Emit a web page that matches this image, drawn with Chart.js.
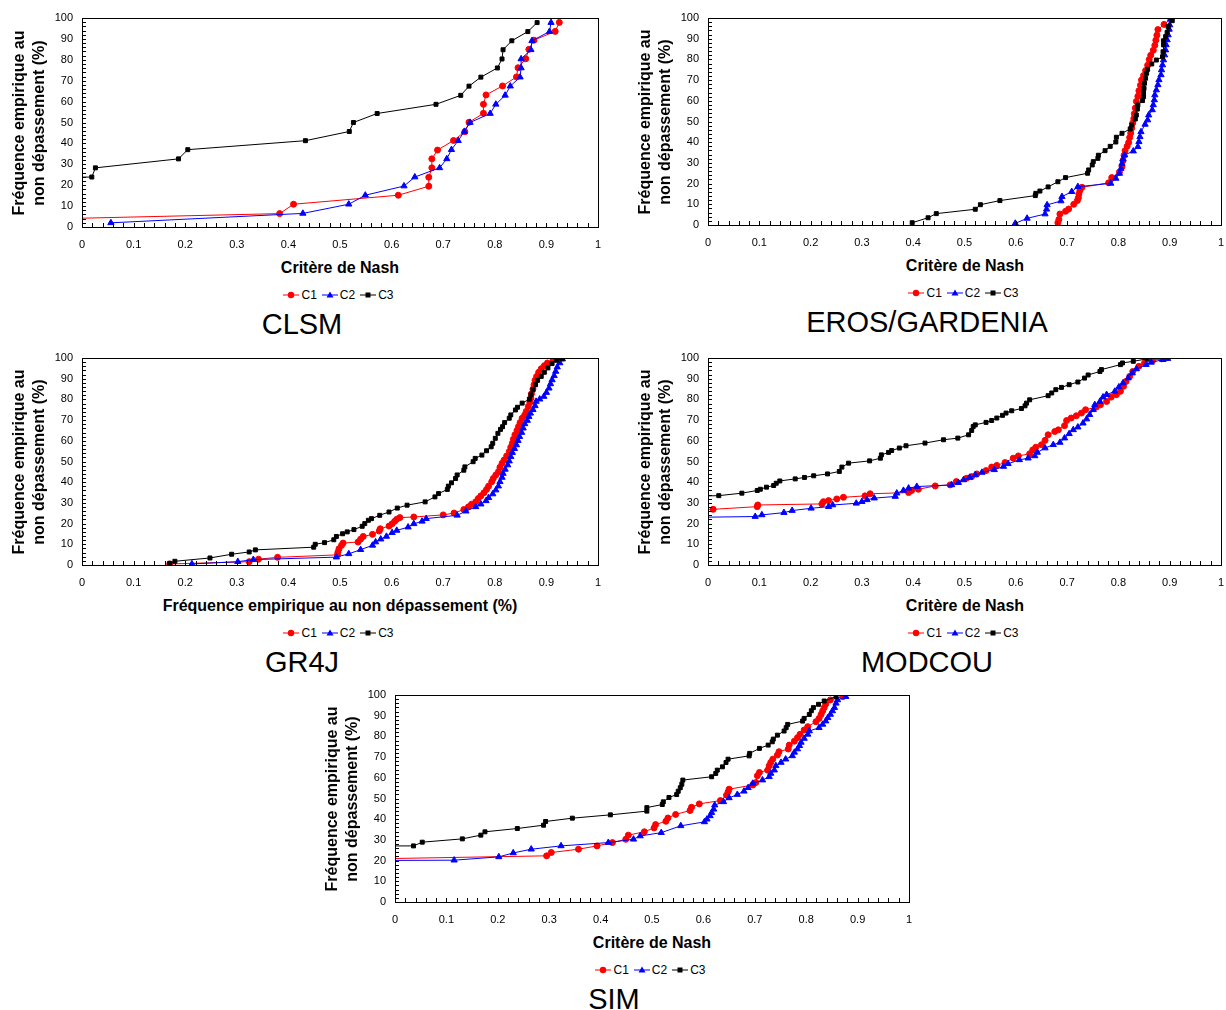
<!DOCTYPE html>
<html lang="fr">
<head>
<meta charset="UTF-8">
<title>Critère de Nash - fréquence empirique au non dépassement</title>
<script src="https://cdn.jsdelivr.net/npm/chart.js"></script>
<style>
  body { margin: 0; background: #fff; font-family: 'Liberation Sans', Arial, sans-serif; color: #000; }
  #page { position: relative; width: 1226px; height: 1010px; overflow: hidden; }
  canvas { position: absolute; }
  .ytitre { position: absolute; width: 260px; height: 40px; line-height: 20px; font-size: 16px; font-weight: bold; text-align: center; white-space: nowrap; transform: rotate(-90deg); }
  .xtitre { position: absolute; width: 500px; height: 20px; line-height: 20px; font-size: 16px; font-weight: bold; text-align: center; white-space: nowrap; }
  .legende { position: absolute; width: 300px; height: 16px; display: flex; justify-content: center; align-items: center; font-size: 12px; }
  .legende svg { margin-right: 2px; }
  .legende span { margin-right: 5px; }
  .legende span:last-child { margin-right: 0; }
  .titre { position: absolute; width: 400px; height: 34px; line-height: 34px; font-size: 29px; text-align: center; white-space: nowrap; }
</style>
</head>
<body>
<div id="page"></div>

<script>
  // textes
  var xTickLabels = ['0', '0.1', '0.2', '0.3', '0.4', '0.5', '0.6', '0.7', '0.8', '0.9', '1'];
  var yTickLabels = ['0', '10', '20', '30', '40', '50', '60', '70', '80', '90', '100'];
  var seriesNames = ['C1', 'C2', 'C3'];
  var panelTitles = ['CLSM', 'EROS/GARDENIA', 'GR4J', 'MODCOU', 'SIM'];
  var xAxisTitles = ['Critère de Nash', 'Critère de Nash', 'Fréquence empirique au non dépassement (%)', 'Critère de Nash', 'Critère de Nash'];
  var yAxisTitle = ['Fréquence empirique au', 'non dépassement (%)'];

  // [critère de Nash, fréquence (%)]
  var clsmC1 = [[-0.35,2.2],[0.383,6.4],[0.410,10.9],[0.613,15.2],[0.672,19.5],[0.672,23.8],[0.678,28.3],[0.678,32.6],[0.689,36.8],[0.720,41.4],[0.742,45.6],[0.750,50.1],[0.778,54.4],[0.778,58.7],[0.783,63.2],[0.815,67.5],[0.842,71.8],[0.845,76.2],[0.860,80.5],[0.866,85.0],[0.876,89.4],[0.917,93.6],[0.925,97.9]];
  var clsmC2 = [[0.056,2.0],[0.428,6.5],[0.517,10.9],[0.549,15.2],[0.624,19.6],[0.645,23.9],[0.693,28.3],[0.707,32.6],[0.716,37.0],[0.729,41.3],[0.741,45.7],[0.752,50.0],[0.791,54.3],[0.802,58.7],[0.820,63.0],[0.830,67.4],[0.849,71.7],[0.851,76.1],[0.851,80.4],[0.870,84.8],[0.872,89.1],[0.906,93.5],[0.909,97.8]];
  var clsmC3 = [[-3,19.6],[0.019,23.9],[0.026,28.3],[0.187,32.6],[0.205,37.0],[0.433,41.3],[0.518,45.7],[0.526,50.0],[0.572,54.3],[0.686,58.7],[0.734,63.0],[0.750,67.4],[0.773,71.7],[0.805,76.1],[0.814,80.4],[0.816,84.8],[0.833,89.1],[0.864,93.5],[0.882,97.8]];

  var erosC1 = [[0.682,1.1],[0.684,2.7],[0.686,5.3],[0.697,6.6],[0.703,7.7],[0.713,10.0],[0.720,11.8],[0.722,13.2],[0.723,15.0],[0.725,16.7],[0.729,18.2],[0.781,20.4],[0.787,22.9],[0.802,25.5],[0.807,28.2],[0.809,31.1],[0.811,33.6],[0.813,35.9],[0.817,38.0],[0.820,39.9],[0.822,42.3],[0.824,44.4],[0.826,46.8],[0.828,49.3],[0.830,51.4],[0.831,53.8],[0.833,56.5],[0.835,59.7],[0.838,62.2],[0.840,64.9],[0.843,67.5],[0.845,70.0],[0.849,72.2],[0.853,74.6],[0.857,77.2],[0.860,79.9],[0.863,82.0],[0.868,84.4],[0.871,86.8],[0.873,89.3],[0.875,91.7],[0.877,94.4],[0.889,96.9],[0.902,99.6]];
  var erosC2 = [[0.599,0.8],[0.622,3.2],[0.657,5.3],[0.660,7.6],[0.661,9.7],[0.688,11.6],[0.690,13.7],[0.709,16.1],[0.721,18.5],[0.785,20.1],[0.795,22.5],[0.802,24.9],[0.805,27.3],[0.807,29.7],[0.809,31.8],[0.812,33.8],[0.829,35.7],[0.838,37.8],[0.840,40.2],[0.842,42.6],[0.844,45.0],[0.852,48.6],[0.857,50.7],[0.859,53.1],[0.866,55.6],[0.868,58.0],[0.870,60.4],[0.871,62.8],[0.874,65.2],[0.877,67.7],[0.879,70.1],[0.883,72.5],[0.884,74.9],[0.886,77.3],[0.888,79.7],[0.890,82.1],[0.892,84.5],[0.893,87.0],[0.895,89.4],[0.897,91.8],[0.899,94.5],[0.900,96.6],[0.902,99.4]];
  var erosC3 = [[0.398,1.1],[0.429,3.5],[0.445,5.5],[0.521,7.6],[0.531,9.8],[0.569,11.8],[0.638,14.2],[0.639,15.3],[0.647,16.4],[0.663,18.4],[0.682,20.9],[0.697,22.9],[0.740,25.0],[0.742,26.6],[0.749,29.0],[0.751,30.6],[0.760,32.2],[0.761,33.7],[0.774,35.9],[0.784,38.0],[0.795,40.1],[0.796,42.4],[0.807,44.3],[0.823,46.4],[0.826,48.3],[0.833,51.2],[0.835,53.1],[0.837,56.0],[0.838,58.0],[0.847,60.1],[0.849,62.0],[0.849,64.0],[0.850,66.0],[0.851,68.5],[0.853,70.9],[0.855,73.3],[0.857,75.2],[0.865,77.8],[0.874,79.7],[0.886,81.3],[0.887,83.7],[0.888,87.0],[0.888,89.0],[0.892,91.0],[0.895,93.1],[0.897,95.8],[0.905,98.7]];

  var gr4jC1 = [[0.170,0.5],[0.324,1.6],[0.342,2.8],[0.379,3.7],[0.495,4.9],[0.496,6.2],[0.498,7.8],[0.503,9.5],[0.506,10.6],[0.535,11.1],[0.540,12.5],[0.545,13.8],[0.563,14.8],[0.576,16.4],[0.578,17.5],[0.595,18.8],[0.601,19.9],[0.606,21.1],[0.610,22.1],[0.616,22.9],[0.643,23.2],[0.700,24.2],[0.721,25.1],[0.740,26.8],[0.749,28.1],[0.755,29.4],[0.763,30.5],[0.768,32.1],[0.773,33.4],[0.779,34.9],[0.784,36.5],[0.788,38.1],[0.794,40.2],[0.797,41.8],[0.802,43.5],[0.807,45.1],[0.810,47.2],[0.814,49.1],[0.818,50.7],[0.823,52.7],[0.828,54.8],[0.831,56.9],[0.834,58.8],[0.836,60.8],[0.839,62.9],[0.843,65.0],[0.846,66.9],[0.849,68.8],[0.853,70.9],[0.858,72.5],[0.861,74.2],[0.865,76.6],[0.868,78.5],[0.870,80.6],[0.871,82.7],[0.874,85.0],[0.876,87.1],[0.878,89.2],[0.881,91.1],[0.885,93.1],[0.890,94.8],[0.896,96.3],[0.902,97.6],[0.913,99.6]];
  var gr4jC2 = [[0.213,0.5],[0.302,1.6],[0.332,2.6],[0.493,3.8],[0.517,5.4],[0.540,7.4],[0.563,9.5],[0.569,11.1],[0.579,12.5],[0.590,13.8],[0.601,15.6],[0.610,16.7],[0.632,18.3],[0.643,19.9],[0.659,21.1],[0.667,22.4],[0.727,24.0],[0.744,26.0],[0.763,28.1],[0.773,29.4],[0.783,31.0],[0.788,32.5],[0.796,34.3],[0.802,36.2],[0.807,38.1],[0.810,40.2],[0.814,42.3],[0.816,44.2],[0.820,46.2],[0.825,48.3],[0.828,50.2],[0.831,52.3],[0.834,54.3],[0.838,56.2],[0.842,58.0],[0.845,60.1],[0.848,62.0],[0.852,64.0],[0.855,66.1],[0.858,68.2],[0.863,69.8],[0.866,71.7],[0.869,73.3],[0.874,75.0],[0.878,76.9],[0.880,79.0],[0.887,80.1],[0.895,81.4],[0.900,83.3],[0.905,85.4],[0.908,87.5],[0.911,89.4],[0.915,91.4],[0.918,93.5],[0.921,95.6],[0.926,97.6],[0.931,99.5]];
  var gr4jC3 = [[0.170,0.8],[0.180,1.8],[0.248,3.4],[0.290,5.2],[0.324,6.3],[0.336,7.3],[0.449,8.6],[0.452,10.0],[0.470,10.8],[0.488,12.2],[0.493,13.8],[0.505,15.1],[0.514,16.0],[0.527,17.1],[0.543,18.7],[0.548,20.0],[0.555,21.6],[0.561,22.4],[0.577,24.0],[0.595,25.6],[0.611,27.5],[0.630,28.9],[0.665,30.5],[0.684,32.9],[0.691,34.5],[0.708,36.5],[0.710,38.1],[0.716,39.7],[0.724,41.8],[0.727,43.5],[0.740,45.8],[0.742,47.4],[0.758,49.9],[0.762,51.5],[0.775,53.1],[0.784,55.2],[0.793,57.1],[0.796,58.8],[0.801,61.2],[0.806,63.6],[0.811,65.5],[0.815,66.8],[0.819,68.8],[0.828,70.9],[0.831,72.5],[0.840,74.9],[0.844,76.2],[0.853,78.2],[0.867,80.1],[0.870,82.2],[0.874,84.6],[0.879,87.1],[0.883,89.2],[0.890,91.1],[0.896,93.1],[0.903,95.2],[0.911,97.3],[0.920,98.9],[0.931,99.6]];

  var modcouC1 = [[-0.1,25.9],[0.010,26.9],[0.096,28.2],[0.097,29.0],[0.222,29.5],[0.225,30.6],[0.235,31.1],[0.251,31.9],[0.264,32.7],[0.306,33.4],[0.316,34.4],[0.391,35.0],[0.397,36.0],[0.410,36.6],[0.443,38.2],[0.472,38.7],[0.484,40.3],[0.504,41.9],[0.514,42.7],[0.524,44.0],[0.542,45.6],[0.553,47.3],[0.563,48.1],[0.579,49.5],[0.595,51.6],[0.605,52.7],[0.627,53.7],[0.633,55.6],[0.639,56.9],[0.650,58.1],[0.657,60.2],[0.663,62.9],[0.676,64.5],[0.683,65.3],[0.695,67.3],[0.699,69.8],[0.708,71.0],[0.718,72.1],[0.728,73.4],[0.736,75.0],[0.757,76.3],[0.765,77.4],[0.777,79.0],[0.786,81.1],[0.796,82.3],[0.804,83.9],[0.810,86.3],[0.815,88.7],[0.822,91.1],[0.828,93.5],[0.840,96.0],[0.851,97.6],[0.867,98.9],[0.884,99.6]];
  var modcouC2 = [[-0.3,22.2],[0.092,23.4],[0.105,24.2],[0.148,25.3],[0.164,26.3],[0.201,27.4],[0.235,28.2],[0.243,29.0],[0.289,29.8],[0.300,30.6],[0.310,31.5],[0.324,32.3],[0.365,33.1],[0.368,34.7],[0.381,36.0],[0.391,37.1],[0.407,37.9],[0.475,38.7],[0.488,39.8],[0.498,41.1],[0.510,42.3],[0.521,43.5],[0.534,44.7],[0.558,46.0],[0.576,47.6],[0.585,48.9],[0.607,50.8],[0.624,51.6],[0.637,52.7],[0.642,54.4],[0.657,56.5],[0.673,58.1],[0.686,59.2],[0.695,61.3],[0.704,63.4],[0.712,65.3],[0.721,66.6],[0.731,68.5],[0.738,70.5],[0.744,72.6],[0.751,75.0],[0.754,77.4],[0.764,79.0],[0.770,81.1],[0.777,82.3],[0.793,83.9],[0.801,86.0],[0.809,87.9],[0.819,90.3],[0.827,92.7],[0.835,94.7],[0.854,96.8],[0.864,97.9],[0.887,99.2],[0.896,99.7]];
  var modcouC3 = [[-0.2,32.3],[0.021,33.5],[0.066,34.7],[0.096,36.0],[0.102,36.6],[0.114,37.6],[0.128,38.4],[0.133,39.5],[0.140,40.6],[0.170,41.6],[0.188,42.3],[0.206,43.1],[0.233,44.0],[0.256,45.2],[0.261,47.3],[0.274,49.2],[0.315,50.3],[0.336,51.6],[0.338,53.2],[0.352,54.4],[0.358,55.3],[0.373,56.5],[0.386,57.6],[0.423,58.9],[0.459,60.5],[0.487,61.3],[0.508,62.9],[0.514,65.0],[0.517,66.9],[0.521,67.7],[0.542,68.9],[0.553,69.8],[0.563,71.0],[0.574,72.3],[0.581,73.4],[0.592,74.5],[0.611,75.6],[0.618,76.9],[0.621,78.2],[0.627,79.8],[0.663,81.8],[0.670,83.1],[0.678,84.7],[0.689,85.8],[0.704,87.1],[0.721,88.4],[0.734,90.3],[0.741,91.8],[0.764,93.5],[0.767,94.4],[0.804,96.8],[0.808,97.6],[0.829,98.4],[0.856,99.6]];

  var simC1 = [[-0.1,20.6],[0.295,22.3],[0.304,23.9],[0.357,25.5],[0.393,27.1],[0.423,28.7],[0.449,30.3],[0.454,32.3],[0.485,33.9],[0.504,35.8],[0.507,37.4],[0.527,39.0],[0.531,40.6],[0.546,42.3],[0.574,44.2],[0.577,45.8],[0.592,47.4],[0.633,49.0],[0.645,51.6],[0.648,53.2],[0.650,54.5],[0.696,56.5],[0.702,57.7],[0.705,61.0],[0.709,62.6],[0.725,63.7],[0.728,65.8],[0.731,67.4],[0.735,69.0],[0.744,71.0],[0.747,72.6],[0.765,73.9],[0.767,75.8],[0.777,77.7],[0.783,79.4],[0.788,81.0],[0.796,83.1],[0.803,84.7],[0.819,87.1],[0.825,88.7],[0.829,90.6],[0.832,92.3],[0.835,93.9],[0.838,95.6],[0.847,97.6],[0.871,99.2]];
  var simC2 = [[-0.4,19.7],[0.115,20.2],[0.202,21.8],[0.230,23.7],[0.265,25.5],[0.323,27.1],[0.415,28.7],[0.464,30.3],[0.477,31.9],[0.518,33.5],[0.556,36.8],[0.602,38.7],[0.607,40.0],[0.613,41.6],[0.616,43.2],[0.620,44.8],[0.622,46.8],[0.639,48.4],[0.650,50.3],[0.666,51.9],[0.679,53.5],[0.687,55.2],[0.696,57.3],[0.715,58.9],[0.728,60.5],[0.731,62.1],[0.738,63.7],[0.741,65.8],[0.751,67.4],[0.760,69.0],[0.773,70.6],[0.777,72.3],[0.783,73.9],[0.787,75.5],[0.790,77.1],[0.796,79.0],[0.803,81.0],[0.806,82.6],[0.825,84.2],[0.832,85.8],[0.838,87.4],[0.842,89.0],[0.847,90.6],[0.851,92.3],[0.855,93.9],[0.858,96.0],[0.861,97.6],[0.877,99.2]];
  var simC3 = [[-5,25.5],[0.036,27.1],[0.053,28.9],[0.131,30.5],[0.167,32.3],[0.175,33.9],[0.238,35.5],[0.289,37.1],[0.293,38.9],[0.345,40.5],[0.419,42.1],[0.490,43.9],[0.490,45.6],[0.520,47.1],[0.522,48.4],[0.533,50.5],[0.548,51.9],[0.551,53.5],[0.555,55.2],[0.558,56.9],[0.560,58.9],[0.616,60.5],[0.624,62.1],[0.627,63.7],[0.637,65.3],[0.644,67.4],[0.648,69.0],[0.689,70.6],[0.690,71.8],[0.709,74.2],[0.726,75.8],[0.734,77.4],[0.736,78.7],[0.744,80.6],[0.757,82.6],[0.761,84.2],[0.764,85.8],[0.793,87.4],[0.796,88.7],[0.806,90.6],[0.810,92.4],[0.814,93.9],[0.824,95.5],[0.835,97.1],[0.858,99.2]];

  // mise en page : cadre du tracé de chaque graphique (px)
  var panneaux = [
    { titre: panelTitles[0], axeX: xAxisTitles[0], series: [clsmC1, clsmC2, clsmC3], gauche: 82, haut: 18, droite: 598, bas: 227 },
    { titre: panelTitles[1], axeX: xAxisTitles[1], series: [erosC1, erosC2, erosC3], gauche: 708, haut: 18, droite: 1222, bas: 225 },
    { titre: panelTitles[2], axeX: xAxisTitles[2], series: [gr4jC1, gr4jC2, gr4jC3], gauche: 82, haut: 358, droite: 598, bas: 565 },
    { titre: panelTitles[3], axeX: xAxisTitles[3], series: [modcouC1, modcouC2, modcouC3], gauche: 708, haut: 358, droite: 1222, bas: 565 },
    { titre: panelTitles[4], axeX: xAxisTitles[4], series: [simC1, simC2, simC3], gauche: 395, haut: 695, droite: 909, bas: 902 }
  ];

  var couleurs = ['#ff0000', '#0000ff', '#000000'];
  var formes = ['circle', 'triangle', 'rect'];
  var rayons = [3, 3.6, 2.8];
  var police = "'Liberation Sans', Arial, sans-serif";

  // cadre noir + petites graduations vers l'intérieur
  var cadre = {
    id: 'cadre',
    afterDatasetsDraw: function (chart) {
      var ctx = chart.ctx;
      var a = chart.chartArea;
      var sx = chart.scales.x;
      var sy = chart.scales.y;
      ctx.save();
      ctx.strokeStyle = '#000';
      ctx.lineWidth = 1;
      ctx.beginPath();
      for (var i = 0; i <= 50; i++) {
        var px = Math.round(sx.getPixelForValue(i / 50)) + 0.5;
        ctx.moveTo(px, a.bottom);
        ctx.lineTo(px, a.bottom - 4);
        var py = Math.round(sy.getPixelForValue(i * 2)) + 0.5;
        ctx.moveTo(a.left, py);
        ctx.lineTo(a.left + 4, py);
      }
      ctx.stroke();
      ctx.strokeRect(Math.round(a.left) + 0.5, Math.round(a.top) + 0.5, Math.round(a.right - a.left), Math.round(a.bottom - a.top));
      ctx.restore();
    }
  };

  function symbole(k) {
    var c = couleurs[k];
    var m;
    if (k === 0) {
      m = '<circle cx="8" cy="5" r="3.2" fill="' + c + '"/>';
    } else if (k === 1) {
      m = '<polygon points="8,1.5 11.5,7.5 4.5,7.5" fill="' + c + '"/>';
    } else {
      m = '<rect x="5.5" y="2.5" width="5" height="5" fill="' + c + '"/>';
    }
    return '<svg width="16" height="10"><line x1="0" y1="5" x2="16" y2="5" stroke="' + c + '" stroke-width="1"/>' + m + '</svg>';
  }

  var page = document.getElementById('page');

  panneaux.forEach(function (p) {
    var x0 = p.gauche - 82;
    var padD = Math.min(12, 1226 - p.droite);
    var largeur = p.droite - x0 + padD;
    var hauteur = p.bas - p.haut + 41;

    var canvas = document.createElement('canvas');
    canvas.width = largeur;
    canvas.height = hauteur;
    canvas.style.left = x0 + 'px';
    canvas.style.top = (p.haut - 18) + 'px';
    page.appendChild(canvas);

    var datasets = [];
    for (var k = 0; k < 3; k++) {
      datasets.push({
        label: seriesNames[k],
        data: p.series[k].map(function (pt) { return { x: pt[0], y: pt[1] }; }),
        showLine: true,
        borderColor: couleurs[k],
        backgroundColor: couleurs[k],
        borderWidth: 1,
        pointStyle: formes[k],
        pointRadius: rayons[k],
        pointBorderWidth: 1,
        pointBorderColor: couleurs[k],
        pointBackgroundColor: couleurs[k],
        order: 3 - k
      });
    }

    new Chart(canvas.getContext('2d'), {
      type: 'scatter',
      data: { datasets: datasets },
      options: {
        responsive: false,
        animation: false,
        events: [],
        layout: { padding: { top: 18, right: padD, left: 0, bottom: 0 } },
        plugins: {
          legend: { display: false },
          title: { display: false },
          tooltip: { enabled: false }
        },
        scales: {
          x: {
            type: 'linear',
            min: 0,
            max: 1,
            grid: { display: false, drawTicks: false },
            border: { display: false },
            ticks: {
              stepSize: 0.1,
              padding: 11,
              autoSkip: false,
              maxRotation: 0,
              color: '#000',
              font: { family: police, size: 11 },
              callback: function (v, i) { return xTickLabels[i]; }
            },
            afterFit: function (s) { s.height = 23; s.paddingLeft = 0; s.paddingRight = 0; }
          },
          y: {
            type: 'linear',
            min: 0,
            max: 100,
            grid: { display: false, drawTicks: false },
            border: { display: false },
            ticks: {
              stepSize: 10,
              padding: 9,
              color: '#000',
              font: { family: police, size: 11 },
              callback: function (v, i) { return yTickLabels[i]; }
            },
            afterFit: function (s) { s.width = 82; s.paddingTop = 0; s.paddingBottom = 0; }
          }
        }
      },
      plugins: [cadre]
    });

    var milieu = (p.gauche + p.droite) / 2;

    var yt = document.createElement('div');
    yt.className = 'ytitre';
    yt.innerHTML = yAxisTitle[0] + '<br>' + yAxisTitle[1];
    yt.style.left = (p.gauche - 53 - 130) + 'px';
    yt.style.top = ((p.haut + p.bas) / 2 - 20) + 'px';
    page.appendChild(yt);

    var xt = document.createElement('div');
    xt.className = 'xtitre';
    xt.textContent = p.axeX;
    xt.style.left = (milieu - 250) + 'px';
    xt.style.top = (p.bas + 41 - 10) + 'px';
    page.appendChild(xt);

    var lg = document.createElement('div');
    lg.className = 'legende';
    var html = '';
    for (var j = 0; j < 3; j++) {
      html += symbole(j) + '<span>' + seriesNames[j] + '</span>';
    }
    lg.innerHTML = html;
    lg.style.left = (milieu - 1.5 - 150) + 'px';
    lg.style.top = (p.bas + 67.5 - 8) + 'px';
    page.appendChild(lg);

    var tt = document.createElement('div');
    tt.className = 'titre';
    tt.textContent = p.titre;
    tt.style.left = (milieu - 38 - 200) + 'px';
    tt.style.top = (p.bas + 96.5 - 17) + 'px';
    page.appendChild(tt);
  });
</script>
</body>
</html>
